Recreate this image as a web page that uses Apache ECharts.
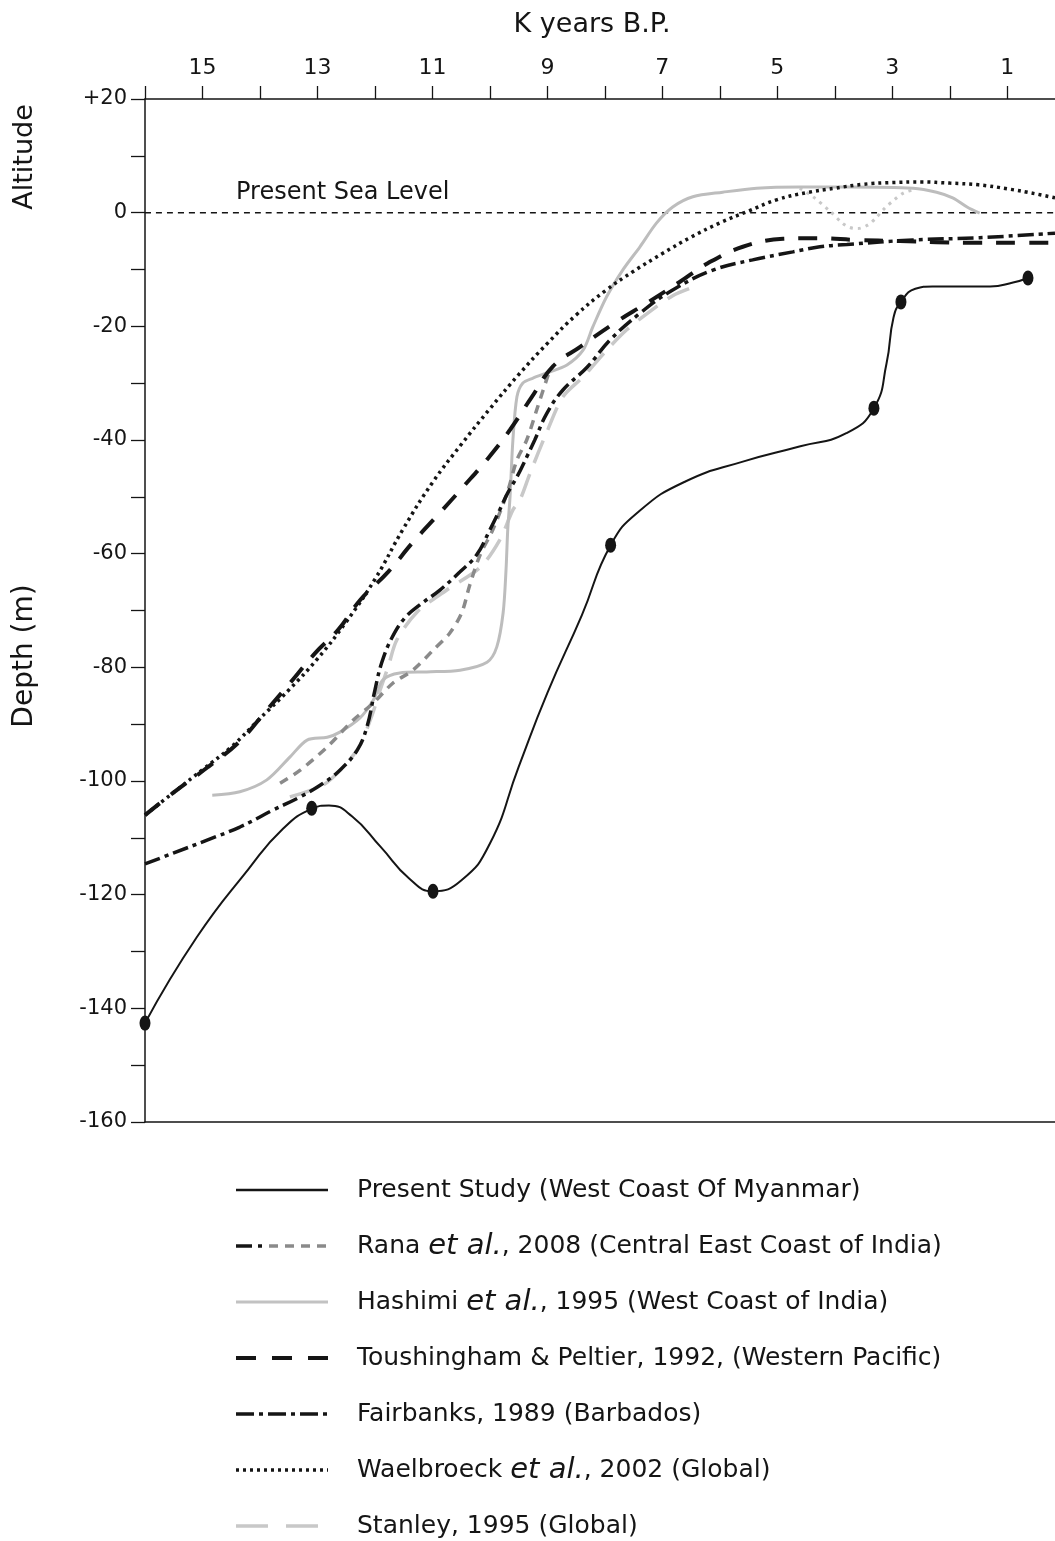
<!DOCTYPE html>
<html>
<head>
<meta charset="utf-8">
<script src="https://cdn.jsdelivr.net/npm/echarts@6/dist/echarts.min.js"></script>
<style>
    html, body { margin: 0; padding: 0; background: #fff; }
    #chart { width: 1055px; height: 1541px; }
</style>
</head>
<body>
<div id="chart"></div>
<script>
// x = thousand years B.P. (K years), y = metres relative to present sea level
const tickYears = [1, 2, 3, 4, 5, 6, 7, 8, 9, 10, 11, 12, 13, 14, 15, 16];
const labelYears = [1, 3, 5, 7, 9, 11, 13, 15];

const seaLevel = [[16, 0], [0.17, 0]];

// Present Study (West Coast Of Myanmar)
const presentStudy = [
    [16.00, -142.6], [15.10, -127.5], [14.20, -115.5], [13.60, -108.4], [13.10, -104.9],
    [12.80, -104.3], [12.40, -106.2], [11.90, -111.6], [11.40, -117.2], [10.99, -119.4],
    [10.50, -117.5], [10.00, -111.0], [9.50, -97.5], [9.00, -84.5], [8.40, -70.8],
    [7.90, -58.5], [7.40, -52.5], [6.60, -47.3], [5.60, -43.8], [4.60, -41.1],
    [3.80, -38.8], [3.32, -34.4], [3.10, -26.5], [2.98, -18.5], [2.85, -15.7],
    [2.60, -13.4], [2.30, -13.0], [1.30, -13.0], [0.90, -12.3], [0.64, -11.5]
];
// dated samples on the present study curve
const presentStudyDated = [
    [16.00, -142.6], [13.10, -104.8], [10.99, -119.4], [7.90, -58.5],
    [3.32, -34.4], [2.85, -15.7], [0.64, -11.5]
];

// Rana et al., 2008
const rana = [
    [13.65, -100.4], [13.30, -98.1], [12.83, -94.0], [12.38, -89.3], [12.03, -86.3],
    [11.69, -82.8], [11.34, -80.5], [10.99, -77.0], [10.70, -74.0], [10.49, -70.4],
    [10.35, -65.5], [10.17, -60.2], [9.95, -55.8], [9.70, -49.3], [9.53, -43.5],
    [9.36, -40.0], [9.17, -34.2], [8.96, -27.7]
];

// Hashimi et al., 1995
const hashimi = [
    [14.83, -102.5], [14.35, -101.9], [13.88, -99.8], [13.48, -95.8], [13.18, -92.8],
    [12.83, -92.3], [12.61, -91.4], [12.26, -88.9], [12.03, -85.8], [11.86, -82.2],
    [11.57, -81.0], [11.10, -80.8], [10.52, -80.5], [10.05, -79.1], [9.88, -76.4],
    [9.77, -70.4], [9.72, -62.9], [9.69, -55.8], [9.65, -50.0], [9.60, -40.0],
    [9.53, -32.4], [9.43, -30.0], [9.25, -29.1], [9.01, -28.2], [8.66, -26.8],
    [8.38, -24.2], [8.21, -20.1], [7.97, -14.8], [7.69, -10.1], [7.39, -6.0],
    [7.10, -1.8], [6.82, 1.0], [6.47, 2.8], [5.95, 3.6], [5.36, 4.3],
    [4.61, 4.5], [3.79, 4.5], [2.64, 4.3], [2.23, 3.6], [1.95, 2.6],
    [1.70, 1.0], [1.48, -0.1]
];
// dotted grey dip below the Hashimi curve
const hashimiDip = [
    [4.61, 4.3], [4.38, 2.8], [4.09, 0.3], [3.86, -1.9], [3.74, -2.6], [3.60, -2.8],
    [3.43, -2.2], [3.29, -1.0], [3.14, 0.7], [2.95, 2.4], [2.80, 3.5], [2.64, 4.0]
];

// Toushingham & Peltier, 1992
const toushingham = [
    [16.00, -106.0], [15.50, -102.0], [14.90, -97.5], [14.35, -93.0], [13.88, -87.5],
    [13.48, -82.8], [13.04, -77.5], [12.64, -73.4], [12.26, -68.2], [11.77, -63.2],
    [11.34, -58.0], [10.87, -52.8], [10.47, -48.3], [10.03, -43.2], [9.65, -38.2],
    [9.27, -32.4], [8.90, -27.0], [8.43, -23.6], [7.83, -19.4], [7.27, -15.9],
    [6.70, -12.2], [6.21, -8.9], [5.60, -6.0], [4.90, -4.6], [4.31, -4.5],
    [3.62, -4.8], [2.87, -5.0], [2.23, -5.2], [1.65, -5.3], [1.01, -5.3], [0.17, -5.3]
];

// Fairbanks, 1989
const fairbanks = [
    [16.00, -114.6], [15.51, -112.7], [14.92, -110.4], [14.35, -108.1], [13.77, -105.1],
    [13.30, -102.8], [12.90, -100.4], [12.61, -98.1], [12.31, -94.6], [12.14, -90.5],
    [12.00, -84.0], [11.88, -79.1], [11.70, -74.7], [11.48, -71.3], [11.22, -69.0],
    [10.87, -66.4], [10.52, -63.2], [10.23, -60.2], [10.00, -55.8], [9.83, -52.3],
    [9.69, -49.3], [9.53, -46.5], [9.36, -43.0], [9.22, -40.0], [9.01, -35.3],
    [8.73, -31.2], [8.31, -27.2], [7.91, -22.4], [7.39, -17.7], [6.82, -13.6],
    [6.12, -10.1], [5.43, -8.3], [4.73, -6.9], [4.26, -6.0], [3.79, -5.6],
    [2.64, -4.8], [1.48, -4.4], [0.17, -3.6]
];

// Waelbroeck et al., 2002
const waelbroeck = [
    [16.00, -106.0], [15.50, -102.0], [15.00, -98.0], [14.50, -94.0], [14.00, -89.0],
    [13.50, -84.0], [13.00, -78.5], [12.50, -72.0], [12.00, -64.5], [11.50, -55.5],
    [11.00, -47.5], [10.50, -40.8], [10.00, -34.5], [9.50, -28.5], [9.00, -23.0],
    [8.50, -18.0], [8.00, -13.8], [7.50, -10.3], [7.00, -7.2], [6.50, -4.3],
    [6.00, -1.8], [5.50, 0.3], [5.00, 2.3], [4.50, 3.5], [4.00, 4.3],
    [3.50, 5.0], [3.00, 5.3], [2.50, 5.4], [2.00, 5.2], [1.50, 4.9],
    [1.00, 4.2], [0.50, 3.3], [0.17, 2.6]
];

// Stanley, 1995
const stanley = [
    [13.48, -102.8], [12.90, -100.7], [12.52, -97.2], [12.26, -93.7], [12.05, -88.4],
    [11.91, -84.0], [11.77, -79.9], [11.62, -75.2], [11.27, -70.3], [10.75, -66.4],
    [10.17, -62.4], [9.83, -57.6], [9.60, -52.3], [9.48, -50.6], [9.30, -45.8],
    [9.01, -38.6], [8.73, -32.4], [8.38, -28.9], [7.97, -24.2], [7.62, -20.6],
    [7.22, -17.4], [6.82, -14.6], [6.52, -13.3]
];

const FONT = 'DejaVu Sans';
const INK = '#151515';

const chart = echarts.init(document.getElementById('chart'));

function curve(name, data, color, width, type, z, smooth) {
    return {
        type: 'line',
        name: name,
        data: data,
        smooth: smooth || 0.3,
        symbol: 'none',
        silent: true,
        z: z,
        lineStyle: { color: color, width: width, type: type, cap: 'butt' }
    };
}

// legend rows drawn by hand (one dash pattern per study)
const legendRows = [
    { text: 'Present Study (West Coast Of Myanmar)', parts: [{ x1: 236, x2: 328, stroke: INK, w: 2.5 }] },
    { text: 'Rana {it|et al.}, 2008 (Central East Coast of India)', parts: [
        { x1: 236, x2: 252, stroke: INK, w: 3.5 },
        { x1: 258, x2: 262, stroke: INK, w: 3.5 },
        { x1: 269, x2: 328, stroke: '#8a8a8a', w: 3.5, dash: [9, 7] }] },
    { text: 'Hashimi {it|et al.}, 1995 (West Coast of India)', parts: [{ x1: 236, x2: 328, stroke: '#c2c2c2', w: 3 }] },
    { text: 'Toushingham & Peltier, 1992, (Western Pacific)', parts: [{ x1: 236, x2: 328, stroke: INK, w: 4, dash: [20, 16] }] },
    { text: 'Fairbanks, 1989 (Barbados)', parts: [{ x1: 236, x2: 328, stroke: INK, w: 3.5, dash: [18, 5, 4, 5] }] },
    { text: 'Waelbroeck {it|et al.}, 2002 (Global)', parts: [{ x1: 236, x2: 328, stroke: INK, w: 3.5, dash: [3, 4] }] },
    { text: 'Stanley, 1995 (Global)', parts: [{ x1: 236, x2: 328, stroke: '#c8c8c8', w: 3.5, dash: [32, 18] }] }
];

const graphics = [];
legendRows.forEach(function (row, i) {
    const y = 1190 + i * 56;
    row.parts.forEach(function (p) {
        graphics.push({
            type: 'line',
            shape: { x1: p.x1, y1: y, x2: p.x2, y2: y },
            style: { stroke: p.stroke, lineWidth: p.w, lineDash: p.dash || null }
        });
    });
    graphics.push({
        type: 'text',
        x: 357,
        y: y,
        style: {
            text: row.text,
            fontFamily: FONT,
            fontSize: 25,
            fill: INK,
            verticalAlign: 'middle',
            rich: { it: { fontFamily: FONT, fontStyle: 'italic', fontSize: 29, fill: INK } }
        }
    });
});

graphics.push(
    { type: 'text', x: 592, y: 25, style: { text: 'K years B.P.', fontFamily: FONT, fontSize: 27, fill: INK, align: 'center', verticalAlign: 'middle' } },
    { type: 'text', x: 25, y: 157, rotation: Math.PI / 2, style: { text: 'Altitude', fontFamily: FONT, fontSize: 27, fill: INK, align: 'center', verticalAlign: 'middle' } },
    { type: 'text', x: 25, y: 656, rotation: Math.PI / 2, style: { text: 'Depth (m)', fontFamily: FONT, fontSize: 28, fill: INK, align: 'center', verticalAlign: 'middle' } },
    { type: 'text', x: 236, y: 193, style: { text: 'Present Sea Level', fontFamily: FONT, fontSize: 24, fill: INK, align: 'left', verticalAlign: 'middle' } }
);

const option = {
    animation: false,
    backgroundColor: '#fff',
    grid: { left: 145, right: 0, top: 99, bottom: 419, containLabel: false },
    xAxis: [{
        type: 'value',
        position: 'top',
        inverse: true,
        min: 0.17,
        max: 16,
        axisLine: { show: true, onZero: false, lineStyle: { color: INK, width: 1.5 } },
        axisTick: { show: true, inside: false, length: 13, customValues: tickYears, lineStyle: { color: INK, width: 1.3 } },
        axisLabel: { customValues: labelYears, margin: 20, fontSize: 22, fontFamily: FONT, color: INK },
        splitLine: { show: false }
    }, {
        type: 'value',
        position: 'bottom',
        inverse: true,
        min: 0.17,
        max: 16,
        axisLine: { show: true, onZero: false, lineStyle: { color: INK, width: 1.5 } },
        axisTick: { show: false },
        axisLabel: { show: false },
        splitLine: { show: false }
    }],
    yAxis: {
        type: 'value',
        min: -160,
        max: 20,
        interval: 10,
        axisLine: { show: true, onZero: false, lineStyle: { color: INK, width: 1.5 } },
        axisTick: { show: true, inside: false, length: 14, lineStyle: { color: INK, width: 1.3 } },
        axisLabel: {
            margin: 18,
            fontSize: 21,
            fontFamily: FONT,
            color: INK,
            formatter: function (v) {
                if (v % 20 !== 0) return '';
                return v > 0 ? '+' + v : String(v);
            }
        },
        splitLine: { show: false }
    },
    graphic: graphics,
    series: [
        curve('Present Sea Level', seaLevel, INK, 1.5, [6, 5], 1),
        curve('Hashimi dip', hashimiDip, '#c8c8c8', 3, [3, 5], 2),
        curve('Stanley, 1995', stanley, '#c8c8c8', 3.5, [24, 12], 2),
        curve('Hashimi et al., 1995', hashimi, '#bdbdbd', 3, 'solid', 3),
        curve('Rana et al., 2008', rana, '#8a8a8a', 3.5, [9, 7], 4),
        curve('Fairbanks, 1989', fairbanks, INK, 3.5, [16, 5, 4, 5], 5, 0.4),
        curve('Toushingham & Peltier, 1992', toushingham, INK, 4, [19, 14], 5, 0.4),
        curve('Waelbroeck et al., 2002', waelbroeck, INK, 3.5, [3, 4], 5, 0.45),
        curve('Present Study', presentStudy, INK, 2, 'solid', 6, 0.5),
        {
            type: 'scatter',
            name: 'Present Study (dated)',
            data: presentStudyDated,
            symbol: 'circle',
            symbolSize: [11, 15],
            silent: true,
            z: 7,
            itemStyle: { color: INK, opacity: 1 }
        }
    ]
};

chart.setOption(option);
</script>
</body>
</html>
